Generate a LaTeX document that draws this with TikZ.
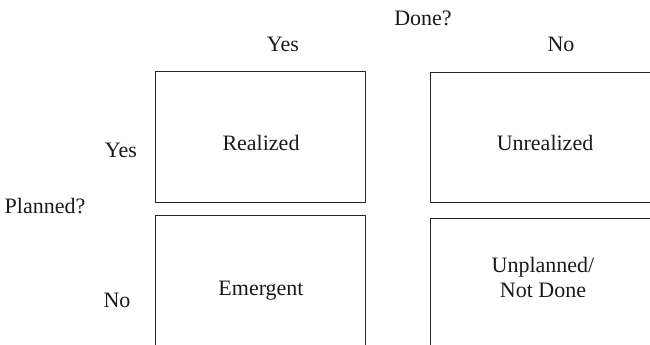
\documentclass[tikz,border=0pt]{standalone}
\usepackage{fontspec}
\setmainfont{Liberation Serif}
\begin{document}
\begin{tikzpicture}[x=1pt,y=-1pt,
  cell/.style={draw=black!85, line width=1.4pt, inner sep=0pt, anchor=north west},
  lbl/.style={font=\fontsize{22}{26}\selectfont, text=black!90, inner sep=0pt, anchor=base},
  boxtext/.style={lbl, align=center}]
  \useasboundingbox (0,0) rectangle (650,345);
  \clip (0,0) rectangle (650,345);

  % quadrant frames (right column and bottom row run off the page)
  \node[cell, minimum width=210pt, minimum height=131pt] (q11) at (155,71) {};
  \node[cell, minimum width=240pt, minimum height=130pt] (q12) at (430,72) {};
  \node[cell, minimum width=210pt, minimum height=150pt] (q21) at (155,215) {};
  \node[cell, minimum width=240pt, minimum height=150pt] (q22) at (430,218) {};

  % axis headings
  \node[lbl] (done) at (423,26) {Done?};
  \node[lbl] (dyes) at (283,52) {Yes};
  \node[lbl] (dno)  at (561,52) {No};
  \node[lbl] (plan) at (45,213) {Planned?};
  \node[lbl] (pyes) at (121,157) {Yes};
  \node[lbl] (pno)  at (117,307) {No};

  % quadrant labels
  \node[lbl] (t11) at (261,150) {Realized};
  \node[lbl] (t12) at (545,150) {Unrealized};
  \node[lbl] (t21) at (261,295) {Emergent};
  \node[lbl] (t22a) at (543,272) {Unplanned/};
  \node[lbl] (t22b) at (543,297) {Not Done};
\end{tikzpicture}
\end{document}
